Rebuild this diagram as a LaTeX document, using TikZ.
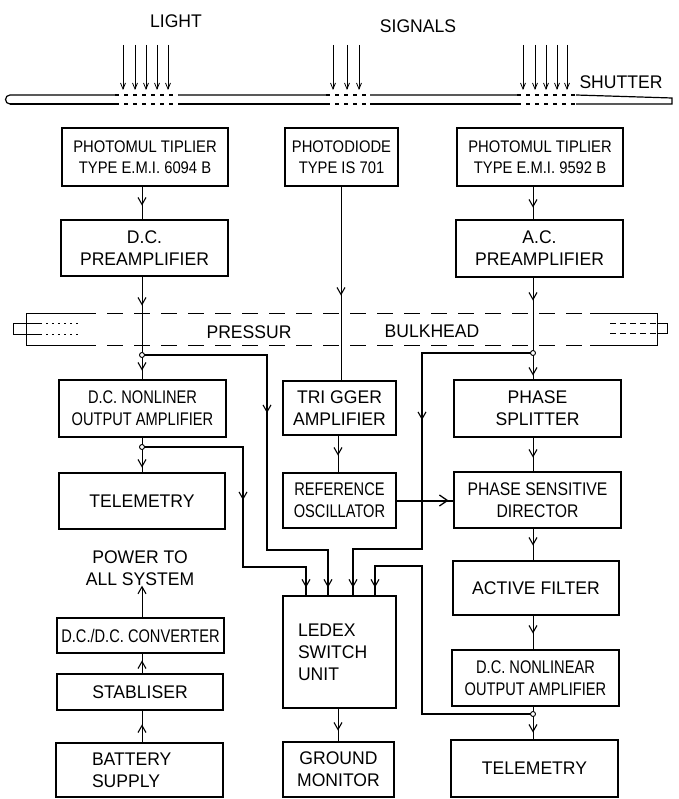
\documentclass[tikz,border=0pt]{standalone}
\usepackage{fontspec}
\setmainfont{Liberation Sans}[FakeStretch=0.96]
\newfontfamily\narrowf{Liberation Sans}[FakeStretch=0.8]
\newfontfamily\pmf{Liberation Sans}[FakeStretch=0.88]
\usetikzlibrary{arrows.meta,decorations.markings,calc}
\newcommand\mybarb{\arrow[line width=1.1pt]{Straight Barb[length=7pt,width=8pt]}}
\newcommand\mybigbarb{\arrow[line width=1.3pt]{Straight Barb[length=8pt,width=11pt]}}
\tikzset{
  box/.style={draw, line width=1.1pt, inner sep=0pt, align=center, font=\fontsize{18.3}{22}\selectfont},
  nbox/.style={box, font=\narrowf\fontsize{18.3}{22}\selectfont},
  pbox/.style={box, font=\pmf\fontsize{16.8}{21}\selectfont},
  lbl/.style={inner sep=0pt, align=center, font=\fontsize{18.3}{22}\selectfont},
  wire/.style={line width=1pt},
  bus/.style={line width=2pt},
  arrat/.style={postaction={decorate, decoration={markings, mark=at position #1 with {\mybarb}}}},
  arratbig/.style={postaction={decorate, decoration={markings, mark=at position #1 with {\mybigbarb}}}},
  jdot/.style={line width=0.9pt, fill=white},
}
\begin{document}
\begin{tikzpicture}[x=1pt,y=-1pt]
\useasboundingbox (0,0) rectangle (678,799);

% ---------- top labels ----------
\node[lbl] (light) at (176,21) {LIGHT};
\node[lbl] (signals) at (418,26) {SIGNALS};
\node[lbl] (shutterlbl) at (621,82) {SHUTTER};

% light arrows
\foreach \x in {123,135,146,157,168,333,347,359,523,535,546,557,567}
  \draw[line width=0.8pt, -{Straight Barb[length=6pt,width=5pt]}] (\x,45) -- (\x,90);

% ---------- shutter ----------
\begin{scope}[line width=1.2pt]
  \draw (10,95) arc (90:270:4.5pt);
  \draw (10,95) -- (115,95) (178,95) -- (326,95) (370,95) -- (517,95) (576,95) -- (672,98) -- (672,104) -- (576,104);
  \draw (10,104) -- (115,104) (178,104) -- (326,104) (370,104) -- (517,104);
  \draw[dash pattern=on 4pt off 5pt] (115,95) -- (178,95) (326,95) -- (370,95) (517,95) -- (576,95)
        (115,104) -- (178,104) (326,104) -- (370,104) (517,104) -- (576,104);
\end{scope}

% ---------- pressure bulkhead ----------
\begin{scope}[line width=1pt]
  \draw (80,313) -- (26,313) -- (26,345) -- (80,345);
  \draw[dash pattern=on 16pt off 11pt] (80,313) -- (590,313) (80,345) -- (590,345);
  \draw (590,313) -- (657,313) -- (657,345) -- (590,345);
  \draw (40,323) -- (13,323) -- (13,334) -- (40,334);
  \draw[dash pattern=on 2pt off 4pt] (40,323) -- (78,323) (40,334) -- (78,334);
  \draw (657,323) -- (667,323) -- (667,333) -- (657,333);
  \draw[dash pattern=on 6pt off 4pt] (610,323) -- (657,323) (610,333) -- (657,333);
\end{scope}
\node[lbl] (pressur) at (249,332) {PRESSUR};
\node[lbl] (bulkhead) at (432,331) {BULKHEAD};

% ---------- boxes ----------
\node[pbox, minimum width=166pt, minimum height=58pt] (pm1) at (145,157) {PHOTOMUL TIPLIER\\TYPE E.M.I. 6094 B};
\node[pbox, minimum width=113pt, minimum height=58pt] (pd) at (341.5,157) {PHOTODIODE\\TYPE IS 701};
\node[pbox, minimum width=166pt, minimum height=58pt] (pm2) at (540,157) {PHOTOMUL TIPLIER\\TYPE E.M.I. 9592 B};
\node[box, minimum width=167pt, minimum height=56pt] (dcpre) at (144.5,248) {D.C.\\PREAMPLIFIER};
\node[box, minimum width=167pt, minimum height=57pt] (acpre) at (539.5,248.5) {A.C.\\PREAMPLIFIER};
\node[nbox, minimum width=167pt, minimum height=57pt] (dcnl) at (142.5,408.5) {D.C. NONLINER\\OUTPUT AMPLIFIER};
\node[box, minimum width=113pt, minimum height=54pt] (trig) at (339.5,408) {TRI GGER\\AMPLIFIER};
\node[box, minimum width=167pt, minimum height=57pt] (split) at (537.5,408.5) {PHASE\\SPLITTER};
\node[box, minimum width=166pt, minimum height=56pt] (tel1) at (142,501) {TELEMETRY};
\node[nbox, minimum width=113pt, minimum height=55pt] (refosc) at (339.5,500.5) {REFERENCE\\OSCILLATOR};
\node[nbox, minimum width=167pt, minimum height=56pt, font=\fontsize{18.3}{22}\selectfont\addfontfeature{FakeStretch=0.86}] (psd) at (537.5,500) {PHASE SENSITIVE\\DIRECTOR};
\node[lbl] (power) at (140,568) {POWER TO\\ALL SYSTEM};
\node[nbox, minimum width=167pt, minimum height=35pt] (conv) at (140.5,635.5) {D.C./D.C. CONVERTER};
\node[box, minimum width=113pt, minimum height=112pt, text width=83pt, align=left] (ledex) at (339.5,652) {LEDEX\\SWITCH\\UNIT};
\node[box, minimum width=166pt, minimum height=54pt] (filter) at (536,588) {ACTIVE FILTER};
\node[box, minimum width=166pt, minimum height=36pt] (stab) at (140,692) {STABLISER};
\node[nbox, minimum width=167pt, minimum height=56pt] (dcnl2) at (535.5,678) {D.C. NONLINEAR\\OUTPUT AMPLIFIER};
\node[box, minimum width=167pt, minimum height=54pt, text width=95pt, align=left] (batt) at (139.5,770) {BATTERY\\SUPPLY};
\node[box, minimum width=111pt, minimum height=55pt] (gnd) at (338.5,769.5) {GROUND\\MONITOR};
\node[box, minimum width=167pt, minimum height=57pt] (tel2) at (534.5,768.5) {TELEMETRY};

% ---------- columns and junctions ----------
\coordinate (cL) at (142,0);
\coordinate (cM) at (341,0);
\coordinate (cT) at (338,0);
\coordinate (cR) at (533,0);
\coordinate (jL1) at (142,355);
\coordinate (jL2) at (142,447);
\coordinate (jR1) at (533,353);
\coordinate (jR2) at (533,714);
\coordinate (i1) at (306,0);
\coordinate (i2) at (328,0);
\coordinate (i3) at (353,0);
\coordinate (i4) at (375,0);

% ---------- vertical signal wires ----------
\draw[wire, arrat=19pt] (cL |- pm1.south) -- (cL |- dcpre.north);
\draw[wire, arrat=29pt, arrat=94pt] (cL |- dcpre.south) -- (cL |- dcnl.north);
\draw[wire, arrat=109pt] (cM |- pd.south) -- (cM |- trig.north);
\draw[wire, arrat=21pt] (cR |- pm2.south) -- (cR |- acpre.north);
\draw[wire, arrat=23pt, arrat=98pt] (cR |- acpre.south) -- (cR |- split.north);
\draw[wire, arrat=30pt] (cL |- dcnl.south) -- (cL |- tel1.north);
\draw[wire, arrat=20pt] (cT |- trig.south) -- (cT |- refosc.north);
\draw[wire, arrat=20pt] (cR |- split.south) -- (cR |- psd.north);
\draw[wire, arrat=17pt] (cR |- psd.south) -- (cR |- filter.north);
\draw[wire, arrat=18pt] (cR |- filter.south) -- (cR |- dcnl2.north);
\draw[wire, arrat=26pt] (cR |- dcnl2.south) -- (cR |- tel2.north);
\draw[wire, arrat=22pt] (cT |- ledex.south) -- (cT |- gnd.north);
\draw[wire, -{Straight Barb[length=7pt,width=8pt,line width=1.1pt]}] (cL |- conv.north) -- (cL |- power.south);
\draw[wire, arrat=13pt] (cL |- stab.north) -- (cL |- conv.south);
\draw[wire, arrat=18pt] (cL |- batt.north) -- (cL |- stab.south);

% ---------- bus lines to LEDEX ----------
\draw[bus, arrat=183pt, arrat=-8pt] (jL1) -- (267,355) -- (267,550) -- (328,550) -- (i2 |- ledex.north);
\draw[bus, arrat=154pt, arrat=-8pt] (jL2) -- (243,447) -- (243,567) -- (306,567) -- (i1 |- ledex.north);
\draw[bus, arrat=178pt, arrat=-8pt] (jR1) -- (422,353) -- (422,549) -- (353,549) -- (i3 |- ledex.north);
\draw[bus, arrat=-8pt] (jR2) -- (422,714) -- (422,566) -- (375,566) -- (i4 |- ledex.north);
\draw[bus, arratbig=52pt] (refosc.east) -- (refosc.east -| psd.west);

% junction marks
\foreach \j in {jL1,jL2,jR1,jR2}
  \draw[jdot] (\j) circle (2.5pt);
\end{tikzpicture}
\end{document}
